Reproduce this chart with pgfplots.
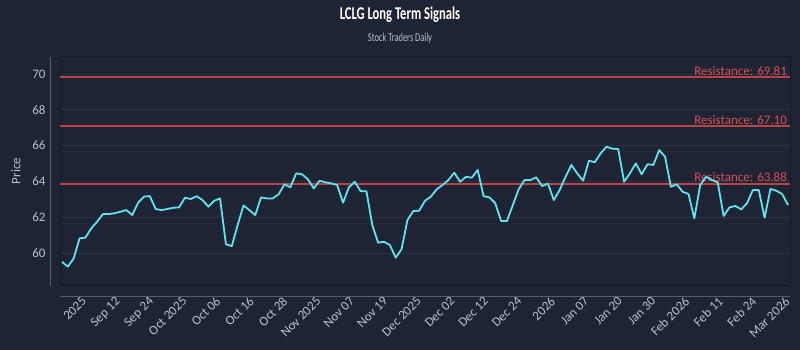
\documentclass[border=0pt]{standalone}
\usepackage{fontspec}
\setmainfont{Carlito}
\newfontfamily\narrowfont[FakeStretch=0.7]{Carlito}
\usepackage{pgfplots}
\pgfplotsset{compat=1.18}
\definecolor{bg}{RGB}{30,36,51}
\definecolor{framecol}{RGB}{18,23,34}
\definecolor{gridcol}{RGB}{42,49,64}
\definecolor{axgrey}{RGB}{85,92,106}
\definecolor{ticklab}{RGB}{185,192,204}
\definecolor{linecyan}{RGB}{94,228,240}
\definecolor{restext}{RGB}{214,80,84}
\begin{document}
\begin{tikzpicture}[x=1pt,y=1pt]
\fill[bg] (0,0) rectangle (800,350);
\useasboundingbox (0,0) rectangle (800,350);
\node[font=\narrowfont\bfseries\fontsize{18}{20}\selectfont, text=white] at (400,335) {LCLG Long Term Signals};
\node[font=\narrowfont\fontsize{12}{14}\selectfont, text=ticklab] at (400,312) {Stock Traders Daily};
\node[rotate=90, font=\fontsize{13}{15}\selectfont, text=ticklab] at (16,179) {Price};
\begin{axis}[
  at={(60pt,64pt)}, anchor=south west,
  scale only axis, width=730pt, height=229pt,
  xmin=-0.34, xmax=124.34, ymin=58.16, ymax=70.95,
  axis line style={draw=framecol, line width=1pt},
  major tick length=0pt,
  /pgf/number format/assume math mode=true,
  ytick={60,62,64,66,68,70},
  ymajorgrids, grid style={draw=gridcol, line width=0.7pt},
  yticklabel style={text=ticklab, font=\fontsize{13}{15}\selectfont, xshift=-11pt},
  xtick={3.25,8.97,14.69,20.41,26.13,31.85,37.57,43.29,49.01,54.73,60.45,66.17,71.89,77.61,83.33,89.05,94.77,100.49,106.21,111.93,117.65,123.37},
  xticklabels={2025,Sep 12,Sep 24,Oct 2025,Oct 06,Oct 16,Oct 28,Nov 2025,Nov 07,Nov 19,Dec 2025,Dec 02,Dec 12,Dec 24,2026,Jan 07,Jan 20,Jan 30,Feb 2026,Feb 11,Feb 24,Mar 2026},
  xticklabel style={text=ticklab, font=\fontsize{13}{15}\selectfont, inner sep=0pt, yshift=-10pt, rotate=45, anchor=north east},
  clip=false,
]
\draw[axgrey, line width=1pt] ([xshift=-10pt]rel axis cs:0,0) -- ([xshift=-10pt]rel axis cs:0,1);
\draw[axgrey, line width=1pt] ([yshift=-11pt]rel axis cs:0,0) -- ([yshift=-11pt]rel axis cs:1,0);
\addplot[color={rgb,255:red,186;green,68;blue,68}, line width=2pt, forget plot] table {
x y
-0.34 69.81
124.34 69.81
};
\addplot[color={rgb,255:red,186;green,68;blue,68}, line width=2pt, forget plot] table {
x y
-0.34 67.10
124.34 67.10
};
\addplot[color={rgb,255:red,186;green,68;blue,68}, line width=2pt, forget plot] table {
x y
-0.34 63.88
124.34 63.88
};
\node[anchor=south east, text=restext, font=\fontsize{13}{15}\selectfont, inner sep=1.5pt] at (axis cs:124.1,69.81) {Resistance: 69.81};
\node[anchor=south east, text=restext, font=\fontsize{13}{15}\selectfont, inner sep=1.5pt] at (axis cs:124.1,67.10) {Resistance: 67.10};
\node[anchor=south east, text=restext, font=\fontsize{13}{15}\selectfont, inner sep=1.5pt] at (axis cs:124.1,63.88) {Resistance: 63.88};
\addplot[linecyan, line width=1.8pt, line join=round] table[row sep=\\] {
x y\\
0 59.51\\ 1 59.24\\ 2 59.70\\ 3 60.82\\ 4 60.86\\ 5 61.38\\ 6 61.75\\ 7 62.18\\ 8 62.18\\ 9 62.22\\
10 62.31\\ 11 62.40\\ 12 62.12\\ 13 62.81\\ 14 63.15\\ 15 63.18\\ 16 62.46\\ 17 62.40\\ 18 62.46\\ 19 62.53\\
20 62.55\\ 21 63.09\\ 22 63.02\\ 23 63.18\\ 24 62.96\\ 25 62.59\\ 26 62.92\\ 27 63.05\\ 28 60.49\\ 29 60.39\\
30 61.56\\ 31 62.66\\ 32 62.40\\ 33 62.12\\ 34 63.11\\ 35 63.05\\ 36 63.05\\ 37 63.28\\ 38 63.84\\ 39 63.67\\
40 64.45\\ 41 64.40\\ 42 64.12\\ 43 63.61\\ 44 64.04\\ 45 63.95\\ 46 63.89\\ 47 63.80\\ 48 62.81\\ 49 63.67\\
50 63.98\\ 51 63.46\\ 52 63.45\\ 53 61.56\\ 54 60.58\\ 55 60.63\\ 56 60.45\\ 57 59.74\\ 58 60.22\\ 59 61.84\\
60 62.35\\ 61 62.36\\ 62 62.92\\ 63 63.15\\ 64 63.56\\ 65 63.80\\ 66 64.08\\ 67 64.49\\ 68 63.98\\ 69 64.26\\
70 64.21\\ 71 64.64\\ 72 63.18\\ 73 63.11\\ 74 62.78\\ 75 61.79\\ 76 61.79\\ 77 62.68\\ 78 63.56\\ 79 64.08\\
80 64.08\\ 81 64.23\\ 82 63.74\\ 83 63.88\\ 84 62.96\\ 85 63.52\\ 86 64.26\\ 87 64.92\\ 88 64.45\\ 89 64.04\\
90 65.16\\ 91 65.07\\ 92 65.57\\ 93 65.94\\ 94 65.83\\ 95 65.81\\ 96 63.98\\ 97 64.45\\ 98 65.01\\ 99 64.40\\
100 64.96\\ 101 64.92\\ 102 65.75\\ 103 65.38\\ 104 63.70\\ 105 63.84\\ 106 63.42\\ 107 63.30\\ 108 61.94\\ 109 63.80\\
110 64.26\\ 111 64.08\\ 112 63.95\\ 113 62.07\\ 114 62.55\\ 115 62.63\\ 116 62.44\\ 117 62.78\\ 118 63.52\\ 119 63.52\\
120 61.97\\ 121 63.58\\ 122 63.48\\ 123 63.30\\ 124 62.68\\
};
\end{axis}
\end{tikzpicture}
\end{document}
